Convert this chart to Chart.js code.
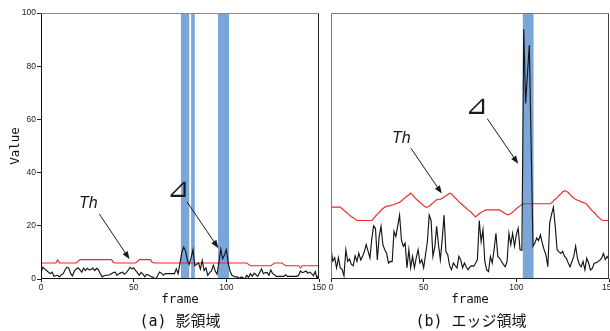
<!DOCTYPE html>
<html>
<head>
<meta charset="utf-8">
<script src="https://cdn.jsdelivr.net/npm/chart.js@4.4.0/dist/chart.umd.min.js"></script>
<style>
  html, body { margin: 0; padding: 0; background: #fff; overflow: hidden; width: 610px; height: 331px; }
  #left { position: absolute; left: 0; top: 0; }
  #right { position: absolute; left: 318px; top: 0; }
  .cap {
    position: absolute; top: 313px; line-height: 17px;
    font-family: "DejaVu Sans Mono", "Noto Sans CJK JP", monospace;
    font-size: 15px; color: #111; white-space: pre; transform: translateX(-50%);
  }
</style>
</head>
<body>
<canvas id="left" width="330" height="331"></canvas>
<canvas id="right" width="310" height="331"></canvas>
<div class="cap" style="left:180px">(a) 影領域</div>
<div class="cap" style="left:471px">(b) エッジ領域</div>
<script>
// x axis ticks (frame) and y axis ticks (Value)
const frameTicks = [0, 50, 100, 150];
const valueTicks = [0, 20, 40, 60, 80, 100];

// (a) shadow region: measured value per frame and threshold Th
const shadowValue = [
  2.5, 4.4, 3.8, 3.2, 2.6, 2.0, 2.6, 1.0, 1.2, 1.4,
  0.8, 1.6, 2.0, 3.5, 4.4, 4.1, 2.0, 1.2, 3.0, 3.8,
  4.2, 3.4, 2.6, 4.1, 3.2, 4.0, 3.4, 3.6, 4.1, 3.2,
  4.0, 3.5, 2.0, 0.8, 1.2, 1.4, 1.4, 1.6, 2.0, 2.4,
  2.6, 1.4, 2.0, 2.3, 2.6, 1.8, 2.4, 3.2, 4.4, 3.8,
  4.2, 3.2, 2.4, 1.4, 2.5, 1.8, 0.8, 1.7, 1.5, 1.0,
  0.8, 0.4, 0.1, 1.4, 2.6, 2.2, 1.4, 2.0, 2.0, 2.0,
  2.0, 2.0, 2.0, 3.8, 2.0, 6.0, 10.0, 12.0, 10.5, 7.0,
  5.5, 8.0, 11.0, 5.0, 5.5, 6.0, 3.7, 7.0, 3.2, 4.2,
  1.4, 2.4, 3.0, 5.2, 3.0, 1.8, 6.4, 11.2, 7.6, 9.0,
  11.0, 6.0, 3.0, 1.4, 1.0, 0.8, 0.8, 0.2, 0.8, 0.5,
  0.0, 1.4, 0.6, 2.0, 1.0, 2.2, 1.6, 1.0, 2.4, 3.8,
  2.0, 2.4, 2.4, 1.4, 3.4, 2.0, 1.6, 1.0, 1.0, 1.0,
  1.0, 1.0, 1.6, 1.0, 1.0, 1.0, 1.0, 1.0, 1.0, 1.4,
  3.0, 2.4, 2.6, 3.0, 2.2, 2.6, 2.0, 1.2, 2.8, 0.0,
  2.0
];
const shadowTh = [
  6, 6, 6, 6, 6, 6, 6, 6, 6, 7.2,
  6, 6, 6, 6, 6, 6, 6, 6, 6, 6,
  6.6, 7.3, 7.3, 7.3, 7.3, 7.3, 7.3, 7.3, 7.3, 7.3,
  7.3, 7.3, 7.3, 7.3, 7.3, 7.3, 7.3, 7.3, 7.3, 6.3,
  6, 6, 6, 6, 6, 6, 6, 6, 6, 6,
  6, 6, 6.6, 7.3, 7.3, 7.3, 7.3, 7.3, 7.3, 7.3,
  6.3, 6, 6, 6, 6, 6, 6, 6, 6, 6,
  6, 6, 6, 6, 6, 6, 6, 6, 6, 6,
  6, 6, 6, 6, 6, 6, 6, 6, 6, 6,
  6, 6, 6, 6, 6, 6, 6, 6, 6, 6,
  6, 6, 6, 6, 6, 6, 6, 6, 6, 6,
  6, 6, 5.5, 5, 5, 5, 5, 5, 5, 5,
  5, 5, 5, 5, 5, 5.5, 6, 6, 6, 6,
  6, 5.5, 5, 5, 5, 5, 5, 5, 5, 5,
  4.2, 5, 5, 5, 5, 5, 5, 5, 5, 5,
  5
];
const shadowBands = [[75.5, 80], [81, 83], [95.5, 101.5]];

// (b) edge region: measured value per frame and threshold Th
const edgeValue = [
  11.2, 6.7, 8.0, 4.2, 8.0, 4.2, 3.6, 1.2, 11.0, 6.6,
  7.5, 5.5, 5.0, 8.7, 6.6, 9.7, 7.2, 8.5, 10.3, 12.9,
  10.5, 7.9, 15.0, 20.0, 19.0, 7.2, 16.0, 19.8, 12.9, 11.0,
  9.7, 6.0, 6.6, 6.5, 17.9, 16.0, 20.0, 24.0, 14.7, 12.3,
  13.5, 4.2, 11.0, 4.2, 8.5, 4.2, 8.0, 11.0, 6.0, 7.2,
  4.2, 9.1, 14.0, 24.0, 22.0, 8.5, 12.0, 19.8, 12.9, 7.2,
  15.0, 24.0, 10.3, 9.1, 5.0, 3.5, 6.0, 5.0, 4.2, 8.5,
  7.2, 4.2, 6.0, 4.5, 3.5, 4.5, 5.0, 4.8, 5.9, 7.3,
  22.0, 14.0, 18.5, 6.6, 3.4, 2.8, 8.5, 6.0, 11.0, 17.2,
  8.5, 7.8, 6.6, 5.5, 4.6, 6.5, 17.2, 12.9, 17.2, 12.3,
  16.6, 19.1, 11.0, 10.8, 94, 66, 77, 88, 50, 12.3,
  13.5, 15.4, 14.5, 16.6, 13.5, 11.0, 9.0, 4.6, 21.0, 24.3,
  27.0, 19.8, 11.0, 10.2, 9.6, 10.4, 8.5, 7.8, 6.0, 4.6,
  6.6, 8.5, 12.3, 7.8, 5.5, 4.6, 6.6, 3.4, 7.8, 6.0,
  3.4, 4.0, 6.0, 6.0, 6.6, 7.0, 7.8, 9.6, 7.3, 8.5,
  7.3
];
const edgeTh = [
  27, 27, 27, 27, 27, 27, 26.4, 25.8, 25.2, 24.6,
  24, 23.4, 23, 22.5, 22, 22, 22, 22, 22, 22,
  22, 22, 22, 22.8, 23.6, 24.4, 25, 25.8, 26.5, 27,
  27.3, 27.5, 27.6, 27.8, 28, 28.3, 28.6, 28.8, 29.4, 30,
  30.6, 31.2, 31.6, 32.3, 31.5, 30.8, 30, 29.4, 28.8, 28.2,
  27.6, 27, 27, 27.4, 28, 28.6, 29.2, 29.8, 30, 30,
  30.3, 30.8, 31.3, 31.8, 32.3, 32, 31.2, 30.5, 29.8, 29,
  28.4, 27.8, 27.2, 26.6, 26, 25.4, 24.8, 24, 23.3, 24,
  24.6, 25, 25.4, 25.8, 26, 26, 26, 26, 26, 26,
  26, 26, 25.5, 25, 24.6, 24.2, 24.2, 24.6, 25.2, 25.8,
  26.4, 27, 27.5, 28, 28.3, 28.3, 28.3, 28.3, 28.3, 28.3,
  28.3, 28.3, 28.3, 28.3, 28.3, 28.3, 28.3, 28.3, 28.3, 28.6,
  29.4, 30, 30.6, 31.4, 32, 32.8, 33.2, 33, 32.5, 31.8,
  31, 30.4, 30, 29.6, 29.4, 29, 28.8, 28.6, 28, 27.2,
  26.4, 25.6, 25, 24.2, 23.4, 22.8, 22.2, 22, 22, 22,
  22
];
const edgeBands = [[103.5, 109.3]];

// annotation labels and arrows, in data units (frame, value)
const shadowNotes = [
  { text: 'Th', x: 25.5, y: 28.3, font: 'italic 16px "Liberation Sans"' },
  { text: '⊿', x: 73.9, y: 33.6, font: '27px "DejaVu Sans"' }
];
const shadowArrows = [[31.4, 24.5, 47.8, 7.4], [78.8, 29, 95.7, 11.6]];
const edgeNotes = [
  { text: 'Th', x: 37.9, y: 52.7, font: 'italic 16px "Liberation Sans"' },
  { text: '⊿', x: 78.5, y: 64.6, font: '27px "DejaVu Sans"' }
];
const edgeArrows = [[43.1, 49.2, 59.8, 32.1], [84.3, 60.3, 101, 43.3]];

function toPoints(arr) {
  return arr.map((v, i) => ({ x: i, y: v }));
}

// blue frame bands behind the lines
const bandPlugin = {
  id: 'bands',
  beforeDatasetsDraw(chart, args, opts) {
    const { ctx, chartArea, scales } = chart;
    ctx.save();
    ctx.fillStyle = '#7ba6d9';
    opts.ranges.forEach(r => {
      const x1 = scales.x.getPixelForValue(r[0]);
      const x2 = scales.x.getPixelForValue(r[1]);
      ctx.fillRect(x1, chartArea.top, x2 - x1, chartArea.bottom - chartArea.top);
    });
    ctx.restore();
  }
};

// frame box, labels and arrows
const notePlugin = {
  id: 'notes',
  afterDraw(chart, args, opts) {
    const { ctx, chartArea: a, scales } = chart;
    const px = v => scales.x.getPixelForValue(v);
    const py = v => scales.y.getPixelForValue(v);
    ctx.save();
    ctx.lineWidth = 1;
    const side = (c, x1, y1, x2, y2) => {
      ctx.strokeStyle = c;
      ctx.beginPath();
      ctx.moveTo(x1, y1);
      ctx.lineTo(x2, y2);
      ctx.stroke();
    };
    const L = Math.round(a.left) + 0.5, R = Math.round(a.right) - 0.5;
    const T = Math.round(a.top) + 0.5, B = Math.round(a.bottom) - 0.5;
    side(opts.box[0], L, T, R, T);
    side(opts.box[1], R, T, R, B);
    side(opts.box[2], L, B, R + 0.5, B);
    side(opts.box[3], L, T, L, B + 0.5);

    ctx.fillStyle = '#1a1a1a';
    ctx.textAlign = 'center';
    ctx.textBaseline = 'middle';
    opts.notes.forEach(n => {
      ctx.font = n.font;
      ctx.fillText(n.text, px(n.x), py(n.y));
    });
    ctx.strokeStyle = '#1a1a1a';
    opts.arrows.forEach(ar => {
      const x1 = px(ar[0]), y1 = py(ar[1]), x2 = px(ar[2]), y2 = py(ar[3]);
      const ang = Math.atan2(y2 - y1, x2 - x1);
      ctx.beginPath();
      ctx.moveTo(x1, y1);
      ctx.lineTo(x2 - 6 * Math.cos(ang), y2 - 6 * Math.sin(ang));
      ctx.stroke();
      ctx.beginPath();
      ctx.moveTo(x2, y2);
      ctx.lineTo(x2 - 8 * Math.cos(ang) + 3 * Math.sin(ang), y2 - 8 * Math.sin(ang) - 3 * Math.cos(ang));
      ctx.lineTo(x2 - 8 * Math.cos(ang) - 3 * Math.sin(ang), y2 - 8 * Math.sin(ang) + 3 * Math.cos(ang));
      ctx.closePath();
      ctx.fill();
    });
    ctx.restore();
  }
};

function makeChart(canvasId, values, th, bands, notes, arrows, showY, padding, box) {
  const tickFont = { family: '"Liberation Sans", Arial, sans-serif', size: 8.5 };
  const titleFont = { family: '"DejaVu Sans Mono", monospace', size: 12.5 };
  return new Chart(document.getElementById(canvasId), {
    type: 'line',
    data: {
      datasets: [
        { data: toPoints(values), borderColor: '#151515', borderWidth: 1.15, pointRadius: 0, tension: 0 },
        { data: toPoints(th), borderColor: '#e8282c', borderWidth: 1.15, pointRadius: 0, tension: 0 }
      ]
    },
    options: {
      responsive: false,
      animation: false,
      events: [],
      layout: { padding: padding },
      plugins: {
        legend: { display: false },
        tooltip: { enabled: false },
        bands: { ranges: bands },
        notes: { notes: notes, arrows: arrows, box: box }
      },
      scales: {
        x: {
          type: 'linear', min: frameTicks[0], max: frameTicks[frameTicks.length - 1],
          afterBuildTicks: s => { s.ticks = frameTicks.map(v => ({ value: v })); },
          afterFit: s => { s.height = 52; },
          ticks: { font: tickFont, color: '#222', padding: 1, maxRotation: 0 },
          grid: { drawOnChartArea: false, tickLength: 3, color: '#222' },
          border: { display: false },
          title: { display: true, text: 'frame', font: titleFont, color: '#111', padding: { top: 0, bottom: 24 } }
        },
        y: {
          type: 'linear', min: valueTicks[0], max: valueTicks[valueTicks.length - 1],
          afterBuildTicks: s => { s.ticks = valueTicks.map(v => ({ value: v })); },
          afterFit: s => { s.width = showY ? 41 : 0; },
          display: true,
          ticks: { display: showY, font: tickFont, color: '#222', padding: 1 },
          grid: { display: showY, drawOnChartArea: false, tickLength: 4, color: '#222' },
          border: { display: false },
          title: { display: showY, text: 'Value', font: titleFont, color: '#111', padding: { top: 8, bottom: 0 } }
        }
      }
    },
    plugins: [bandPlugin, notePlugin]
  });
}

makeChart('left', shadowValue, shadowTh, shadowBands, shadowNotes, shadowArrows, true,
  { top: 13, right: 11, bottom: 0, left: 0 }, ['#8a8a8a', '#222', '#111', '#111']);
makeChart('right', edgeValue, edgeTh, edgeBands, edgeNotes, edgeArrows, false,
  { top: 13, right: 19, bottom: 0, left: 13 }, ['#7a7a7a', '#444', '#222', '#777']);
</script>
</body>
</html>
